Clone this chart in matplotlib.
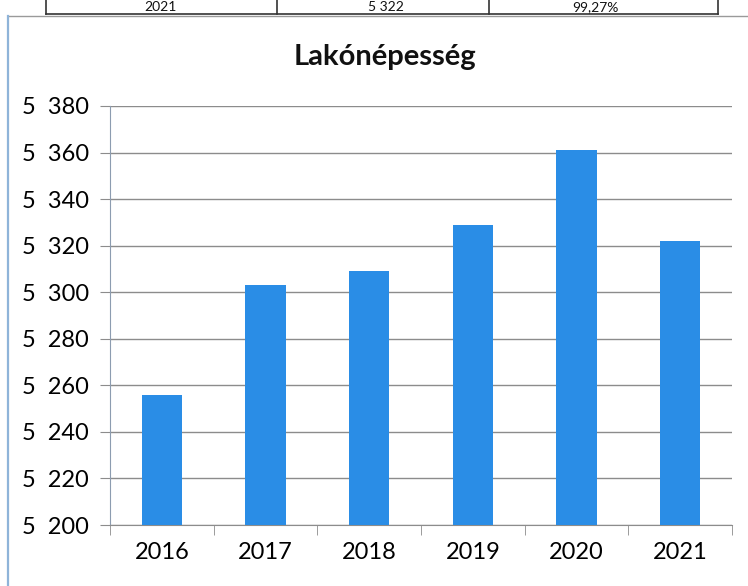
import matplotlib
matplotlib.use("Agg")
import matplotlib.pyplot as plt
import numpy as np

# data
years = ["2016", "2017", "2018", "2019", "2020", "2021"]
population = [5256, 5303, 5309, 5329, 5361, 5322]
y_ticks = [5200, 5220, 5240, 5260, 5280, 5300, 5320, 5340, 5360, 5380]

# table row cut off at the top of the scan
table_row = ["2021", "5 322", "99,27%"]

plt.rcParams['font.family'] = ['Lato', 'DejaVu Sans']

fig = plt.figure(figsize=(7.48, 5.86), dpi=100)
W, H = 748, 586

def fx(px):
    return px / W

def fy(py):
    return 1 - py / H

# chart frame
fig.add_artist(plt.Line2D([fx(8), fx(748)], [fy(16), fy(16)], color="#9a9a9a", lw=1))
fig.add_artist(plt.Line2D([fx(8), fx(8)], [fy(16), fy(586)], color="#8fb4d9", lw=1.6))

# table fragment
fig.add_artist(plt.Line2D([fx(46), fx(718)], [fy(14), fy(14)], color="#333333", lw=1.2))
for xp in [46, 277, 489, 718]:
    fig.add_artist(plt.Line2D([fx(xp), fx(xp)], [fy(0), fy(14)], color="#333333", lw=1.2))
for txt, cx in zip(table_row, [160, 386, 595]):
    fig.text(fx(cx), fy(7), txt, ha="center", va="center", fontsize=10, color="#111111")

ax = fig.add_axes([fx(110), fy(525), fx(732 - 110), (525 - 106) / H])

x = np.arange(len(years))
ax.bar(x, [p - y_ticks[0] for p in population], bottom=y_ticks[0], width=0.39,
       color="#2a8de6", zorder=3)

ax.set_ylim(y_ticks[0], y_ticks[-1])
ax.set_xlim(-0.5, len(years) - 0.5)
ax.set_yticks(y_ticks)
ax.set_yticklabels([f"{v // 1000}  {v % 1000:03d}" for v in y_ticks], fontsize=17)
ax.set_xticks(x)
ax.set_xticklabels(years, fontsize=17)
ax.set_xticks(np.arange(len(years) + 1) - 0.5, minor=True)

ax.grid(axis="y", color="#8c8c8c", lw=1, zorder=0)
for s in ["top", "right"]:
    ax.spines[s].set_visible(False)
ax.spines["left"].set_color("#8c9cb0")
ax.spines["bottom"].set_color("#8c8c8c")
ax.tick_params(axis="y", length=7, color="#8c8c8c", pad=8)
ax.tick_params(axis="x", which="major", length=0, pad=12)
ax.tick_params(axis="x", which="minor", length=7, color="#8c8c8c")

fig.text(fx(385), fy(57), "Lakónépesség", ha="center", va="center",
         fontsize=21, fontweight="bold", color="#111111")

fig.savefig("out.png", dpi=100)
